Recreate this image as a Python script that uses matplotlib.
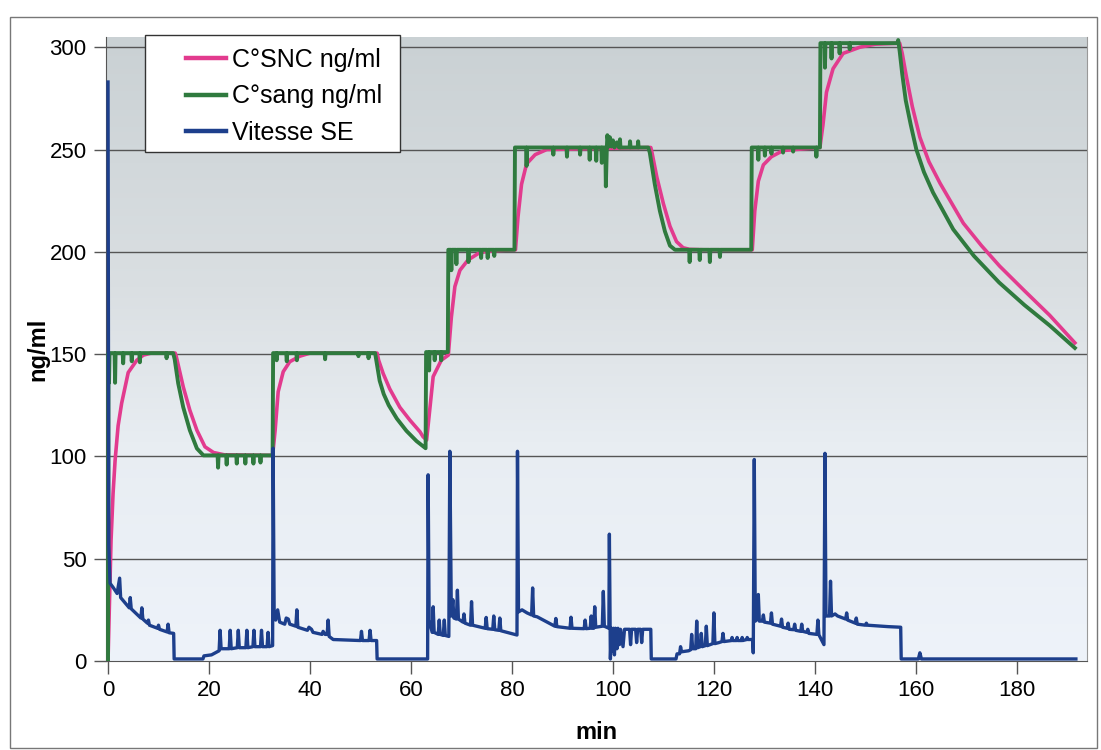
import numpy as np
import matplotlib
matplotlib.use("Agg")
import matplotlib.pyplot as plt
from matplotlib.colors import LinearSegmentedColormap
from matplotlib.patches import Rectangle

plt.rcParams['font.family'] = ['Liberation Sans', 'DejaVu Sans']

# C°SNC ng/ml (pink)
snc_t = [0, 0.3, 0.6, 1.0, 1.4, 2.0, 2.7, 4.0, 5.7, 7.0, 8.5, 13.3, 13.5, 14.9, 16.2, 17.6, 19.2, 20.9, 23, 32.6,
         33.1, 33.7, 34.7, 36, 38, 40, 53.3, 53.6, 54.5, 55.8, 57.8, 59.8, 61.8, 62.4, 63.1, 64.4, 66, 67.4,
         68, 68.7, 69.7, 71.3, 73.6, 76, 80.7, 81.2, 81.9, 82.9, 84.6, 86.9, 107.5, 107.7, 108.7, 110, 111.3,
         112.6, 113.9, 115.2, 118, 127.6, 128.1, 128.8, 129.8, 131.4, 133.7, 141, 141.6, 142.3, 143.6, 145.6,
         148.9, 152, 156.8, 157.3, 158.1, 159.3, 160.8, 162.6, 164.8, 169.4, 173, 176.6, 181.5, 186.5, 191.5]
snc_v = [0, 30, 59, 82, 98, 115, 126, 141, 147, 149.5, 150.5, 150.5, 149, 134, 122.6, 112.8, 104.7, 101.9, 100.8, 100.5,
         112.8, 131.6, 141.4, 146.3, 149, 150.5, 150.5, 147, 140.5, 133, 124, 117.7, 112, 109.6, 108, 139, 147, 149.5,
         168, 183, 191, 196, 199.6, 200.5, 201, 217, 233, 243, 247.5, 250, 251, 249, 236.5, 223.5, 212.5,
         205, 202, 201.2, 201, 201, 220, 234.5, 242.5, 246.5, 249.5, 251, 262, 278, 289.5, 297,
         300, 301.5, 302, 297, 286, 271, 256, 244, 233.5, 214, 203, 193, 181, 169, 155.5]

# C°sang ng/ml (green)
sang_t = [0, 0.1, 0.2, 0.3, 1.3, 1.4, 1.5, 2.9, 3.0, 3.1, 4.6, 4.7, 4.8, 6.2, 6.3, 6.4, 11.5, 11.6, 11.7, 12.9,
          13.2, 13.9, 14.9, 16.2, 17.6, 18.9, 21.7, 21.8, 21.9, 23.4, 23.5, 23.6, 25.4, 25.5, 25.6, 27.1, 27.2, 27.3,
          28.7, 28.8, 28.9, 30.1, 30.2, 30.3, 32.6, 32.7, 33.3, 33.4, 33.5, 35.3, 35.4, 35.5, 37.3, 37.4, 37.5,
          42.9, 43.0, 43.1, 49.5, 49.6, 49.7, 51.5, 51.6, 51.7, 52.9, 53.2, 53.8, 54.6, 55.6, 57.2, 59.1, 61.1, 62.9,
          63.0, 63.5, 63.6, 63.7, 64.6, 64.7, 64.8, 65.9, 66.0, 66.1, 67.3, 67.4, 67.9, 68.0, 68.1, 68.9, 69.0, 69.1,
          71.3, 71.4, 71.5, 73.8, 73.9, 74.0, 75.1, 75.2, 75.3, 76.4, 76.5, 76.6, 80.5, 80.6, 82.8, 82.9, 83.0,
          88.1, 88.2, 88.3, 90.8, 90.9, 91.0, 93.4, 93.5, 93.6, 95.3, 95.4, 95.5, 96.6, 96.7, 96.8, 97.7, 97.8,
          97.9, 98.5, 98.6, 98.8, 98.9, 99.2, 99.4,
          99.7, 100.0, 100.3, 100.8, 101.2, 101.3, 101.4, 101.5, 103.3, 103.4, 103.5, 104.9, 105.0, 105.1, 107.0,
          107.3, 108.3, 109.3, 110.3, 111.3, 112.3, 115.1, 115.2, 115.3, 117.1, 117.2, 117.3, 119.1, 119.2, 119.3,
          121.1, 121.2, 121.3, 127.4, 127.5, 128.7, 128.8, 128.9, 130.0, 130.1, 130.2, 131.3, 131.4, 131.5,
          133.6, 133.7, 133.8, 135.6, 135.7, 135.8, 140.2, 140.3, 140.4, 141.0, 141.1, 141.9, 142.0, 142.1,
          143.2, 143.3, 143.4, 144.8, 144.9, 145.0, 146.8, 146.9, 147.0, 156.4, 156.5, 156.8, 157.3, 158.0,
          159.0, 160.1, 161.6, 163.4, 167.4, 171.5, 176.5, 181.5, 186.5, 191.5]
sang_v = [0, 150.5, 136, 150.5, 150.5, 136, 150.5, 150.5, 145.5, 150.5, 150.5, 146.5, 150.5, 150.5, 146, 150.5, 150.5, 148, 150.5, 150.5,
          147.5, 135.7, 124, 112.8, 103.9, 100.5, 100.5, 94.5, 100.5, 100.5, 96, 100.5, 100.5, 96.5, 100.5, 100.5, 96.5, 100.5,
          100.5, 96.5, 100.5, 100.5, 97, 100.5, 100.5, 150.5, 150.5, 147, 150.5, 150.5, 146.5, 150.5, 150.5, 147, 150.5,
          150.5, 147.5, 150.5, 150.5, 149, 150.5, 150.5, 148, 150.5, 150.5, 146, 137, 130.5, 125, 118.5, 112.5, 107.5, 104,
          151, 151, 142, 151, 151, 147, 151, 151, 147, 151, 151, 201, 201, 191, 201, 201, 194, 201,
          201, 195, 201, 201, 197, 201, 201, 197, 201, 201, 198, 201, 201, 251, 251, 242, 251,
          251, 247.5, 251, 251, 246.5, 251, 251, 247.5, 251, 251, 245, 251, 251, 244.5, 251, 251, 243.5,
          251, 251, 232, 251, 257, 251.5, 256,
          251.5, 254.5, 251, 253.5, 251, 251, 255, 251, 251, 254, 251, 251, 254, 251, 251,
          248.5, 233, 220, 210, 203, 201, 201, 195, 201, 201, 196, 201, 201, 195, 201,
          201, 197.5, 201, 201, 251, 251, 245, 251, 251, 247, 251, 251, 248, 251,
          251, 248.5, 251, 251, 249, 251, 251, 246.5, 251, 251, 302, 302, 290, 302,
          302, 294.5, 302, 302, 297, 302, 302, 299, 302, 302, 303.5, 298, 287, 274,
          262, 250, 239, 229, 211, 198, 185, 174, 164, 153]

# Vitesse SE (blue)
vit_t = [0, 0.15, 0.4, 1.0, 1.8, 2.3, 2.5, 4.2, 4.4, 4.6, 6.5, 6.7, 6.9, 7.8, 8.0, 8.2, 9.8, 10.0, 10.2, 11.7, 11.9, 12.1,
         13.0, 13.1, 18.8, 19.0, 20.5, 22.0, 22.2, 22.4, 24.0, 24.2, 24.4, 25.6, 25.8, 26.0, 27.3, 27.5, 27.7,
         28.7, 28.9, 29.1, 30.2, 30.4, 30.6, 31.5, 31.7, 31.9, 32.6, 32.7, 32.9, 33.2, 33.6, 34.0, 35.0, 35.3,
         35.7, 36.0, 37.2, 37.4, 37.6, 39.5, 39.8, 40.3, 40.6, 42.4, 42.6, 43.0, 43.4, 43.6, 43.8, 44.6, 50.0,
         50.2, 50.4, 51.7, 51.9, 52.1, 53.2, 53.3, 63.3, 63.4, 63.6, 64.2, 64.4, 64.6, 65.4, 65.6, 65.8, 66.4,
         66.6, 66.8, 67.5, 67.7, 68.0, 68.3, 68.5, 69.0, 69.2, 69.4, 70.3, 70.5, 70.7, 71.8, 72.0, 72.2, 74.7,
         74.9, 75.1, 76.2, 76.4, 76.6, 77.4, 77.6, 77.8, 81.0, 81.1, 81.3, 82.0, 83.0, 83.9, 84.1, 84.3, 85.0,
         88.5, 88.7, 88.9, 91.5, 91.7, 91.9, 94.3, 94.5, 94.7, 95.5, 95.7, 95.9, 96.2, 96.4, 96.6, 97.9, 98.1,
         98.3, 99.2, 99.3, 99.5, 99.7, 99.9, 100.1, 100.3, 100.5, 100.8, 101.0, 101.3, 101.5, 102.0, 102.3,
         103.3, 103.5, 103.7, 104.5, 104.7, 104.9, 105.5, 105.7, 105.9, 107.5, 107.6, 112.5, 112.7, 113.2,
         113.4, 113.6, 115.0, 115.4, 115.6, 115.8, 116.4, 116.6, 116.8, 117.3, 117.5, 117.7, 118.3, 118.5, 118.7,
         119.8, 120.0, 120.2, 121.0, 121.6, 121.8, 122.0, 123.5, 123.6, 123.7, 124.5, 124.6, 124.7, 125.5,
         125.6, 125.7, 126.5, 126.6, 126.7, 127.7, 127.8, 128.0, 128.2, 128.6, 128.8, 129.0, 129.6, 129.8,
         130.0, 131.2, 131.4, 131.6, 133.2, 133.4, 133.6, 134.5, 134.7, 134.9, 135.8, 136.0, 136.2, 137.2,
         137.4, 137.6, 138.4, 138.6, 138.8, 140.4, 140.6, 140.8, 141.8, 142.0, 142.2, 142.9, 143.1, 143.3,
         144.0, 144.5, 146.1, 146.3, 146.5, 148.0, 148.2, 148.4, 150.0, 150.2, 150.4, 154.5, 157.0, 157.1,
         160.5, 160.8, 161.1, 191.7]
vit_v = [283, 57, 38, 36, 33, 40.5, 31, 26, 31, 25.5, 21, 26, 20.5, 18.5, 20, 17.5, 16, 17.5, 15.5, 14.2, 18, 13.8,
         13.5, 1, 1, 2.5, 3, 5, 15, 6, 6, 15, 6, 6.5, 15, 6.5, 6.5, 15, 6.5,
         7, 15, 7, 7, 15, 7, 7, 14, 7, 7.5, 104, 25, 20, 25, 19, 18, 21,
         20.5, 18, 17, 25, 16.5, 15, 16.5, 15.5, 14, 13, 14.5, 13, 13, 20, 12, 10.5, 10,
         14.5, 10, 10, 15, 10, 10, 1, 1, 91, 20, 14, 26.5, 14, 13, 20, 13, 12.5,
         20, 12.5, 12, 102.5, 22, 30, 21, 20.5, 34.6, 20.5, 19, 23, 18.5, 17.5, 29, 17.5, 16,
         21.3, 15.8, 15.5, 22, 15.3, 15, 21, 14.8, 12.7, 102.5, 24, 25, 23.5, 22.5, 35.7, 22, 21.6,
         17, 20.8, 16.8, 16, 21.4, 16, 15.8, 20, 15.8, 16, 22, 16, 16, 26.5, 16.5, 17, 34,
         17, 16, 62, 1, 16, 5, 16, 3, 16, 6, 16, 8, 15.5, 7, 15.5,
         15.5, 8, 15.5, 15.5, 9, 15.5, 15.5, 9, 15.5, 15.5, 1, 1, 3.5, 3.5,
         7, 4.5, 5, 5.5, 13, 6, 6, 19.5, 6.5, 7, 13.5, 7, 7.5, 17, 7.5,
         8.5, 23.5, 8.5, 9, 9.5, 13.5, 9.5, 10, 11.5, 10, 10, 11.5, 10, 10,
         11.5, 10, 10.5, 11.5, 10.5, 10.5, 4, 98.5, 19.5, 20.5, 32.5, 19.5, 19.5, 22.5,
         19, 18.5, 23.5, 18, 17, 20.5, 16.5, 16, 18.5, 15.5, 15.3, 18, 15, 14.5,
         18, 14.5, 14, 15.5, 13.5, 13, 20, 12.8, 8, 101.5, 22, 22, 39, 22,
         23, 22, 20.5, 23.5, 20, 18.5, 21, 18, 17.5, 18.5, 17.5, 16.8, 16.5, 1,
         1, 4, 1, 1]

yticks = [0, 50, 100, 150, 200, 250, 300]
xticks = [0, 20, 40, 60, 80, 100, 120, 140, 160, 180]

pink = '#e23b8e'
green = '#2f7a3e'
blue = '#1d3f8c'

fig = plt.figure(figsize=(11.01, 7.5), dpi=100)
fig.patch.set_facecolor('white')
fig.patches.append(Rectangle((10 / 1101, 0.003), 1087 / 1101, 1 - 17 / 750 - 0.003, transform=fig.transFigure,
                             fill=False, edgecolor='#777777', linewidth=1.0))

ax = fig.add_axes([106 / 1101, 89 / 750, 981 / 1101, 624 / 750])
ax.set_xlim(-0.4, 193.9)
ax.set_ylim(0, 305)

# background gradient of the plot area
cmap = LinearSegmentedColormap.from_list('bg', [(0.0, '#eef3fa'), (0.35, '#e8edf2'),
                                               (0.6, '#dadfe2'), (1.0, '#cad1d4')])
grad = np.linspace(0, 1, 256).reshape(-1, 1)
ax.imshow(grad, cmap=cmap, origin='lower', aspect='auto', extent=[-0.4, 193.9, 0, 305], zorder=0)

for y in yticks[1:]:
    ax.axhline(y, color='#555555', linewidth=1.0, zorder=1)

ax.plot(snc_t, snc_v, color=pink, linewidth=2.6, label='C°SNC ng/ml', zorder=3)
ax.plot(sang_t, sang_v, color=green, linewidth=2.8, label='C°sang ng/ml', zorder=4)
ax.plot(vit_t, vit_v, color=blue, linewidth=2.4, label='Vitesse SE', zorder=5)

ax.set_xticks(xticks)
ax.set_yticks(yticks)
ax.tick_params(axis='both', labelsize=16, direction='out', color='#555555', length=9, width=1, pad=5)
ax.spines['top'].set_visible(False)
ax.spines['left'].set_color('#555555')
ax.spines['bottom'].set_color('#555555')
ax.spines['right'].set_color('#999999')

ax.set_ylabel('ng/ml', fontsize=17, fontweight='bold', labelpad=0)
ax.set_xlabel('min', fontsize=17, fontweight='bold', labelpad=14)

# legend box drawn separately (wide left padding like the original)
box = Rectangle((145 / 1101, 1 - 152 / 750), 255 / 1101, 117 / 750, transform=fig.transFigure,
                facecolor='white', edgecolor='#333333', linewidth=1.0, zorder=9, clip_on=False)
ax.add_patch(box)
leg = ax.legend(loc='upper left', bbox_to_anchor=(186 / 1101, 1 - 48 / 750), bbox_transform=fig.transFigure,
                fontsize=18, frameon=False, handlelength=1.6, handletextpad=0.25, labelspacing=0.5,
                borderpad=0, borderaxespad=0)
leg.set_zorder(10)
for h in leg.get_lines():
    h.set_linewidth(3.2)

fig.savefig('out.png', dpi=100)
